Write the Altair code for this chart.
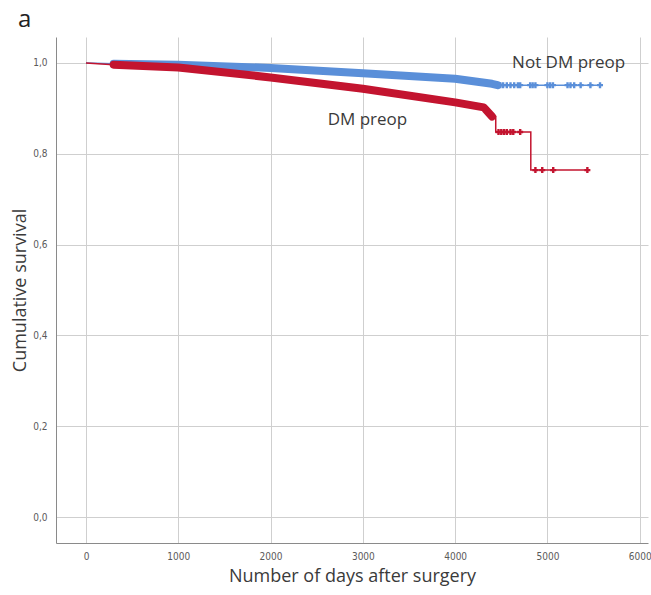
import altair as alt
import pandas as pd

# Kaplan-Meier step points (day, cumulative survival)
days_nodm = [0, 300, 1000, 2000, 3000, 4000, 4400, 4460, 5570]
surv_nodm = [1.0, 0.998, 0.996, 0.989, 0.977, 0.965, 0.954, 0.951, 0.951]

days_dm = [0, 300, 1000, 2000, 3000, 4000, 4310, 4400, 4440, 4820, 5433]
surv_dm = [1.0, 0.996, 0.990, 0.968, 0.943, 0.913, 0.902, 0.882, 0.848, 0.764, 0.764]

# span where censoring is so dense that the "+" marks merge into a band
band_nodm = (300, 4460)
band_dm = (300, 4400)

# individual censored cases in the tails
censor_nodm = [4490, 4520, 4560, 4600, 4640, 4680, 4705, 4813, 4840, 4870,
               5000, 5030, 5060, 5218, 5250, 5290, 5360, 5466, 5570]
censor_dm = [4470, 4500, 4530, 4560, 4600, 4630, 4705, 4870, 4944, 5063, 5433]

groups = ["Not DM preop", "DM preop"]
colors = ["#5a8fd9", "#c3142f"]

# group labels placed next to the curves
label_text = ["Not DM preop", "DM preop"]
label_day = [5230, 3050]
label_surv = [1.0, 0.874]


def step_value(days, surv, t):
    val = surv[0]
    for d, s in zip(days, surv):
        if d <= t:
            val = s
    return val


rows, band_rows, cens_rows = [], [], []
for g, days, surv, band, cens in [
    (groups[0], days_nodm, surv_nodm, band_nodm, censor_nodm),
    (groups[1], days_dm, surv_dm, band_dm, censor_dm),
]:
    order = 0
    for i, (d, s) in enumerate(zip(days, surv)):
        # past the dense band the curve is drawn as true steps
        if i > 0 and d > band[1]:
            rows.append({"group": g, "day": d, "surv": surv[i - 1], "k": order})
            order += 1
        rows.append({"group": g, "day": d, "surv": s, "k": order})
        order += 1
        if band[0] <= d <= band[1]:
            band_rows.append({"group": g, "day": d, "surv": s})
    for c in cens:
        cens_rows.append({"group": g, "day": c, "surv": step_value(days, surv, c)})

curves = pd.DataFrame(rows)
bands = pd.DataFrame(band_rows)
censored = pd.DataFrame(cens_rows)
labels = pd.DataFrame({"label": label_text, "day": label_day, "surv": label_surv})

label_font = "Liberation Sans Narrow, DejaVu Sans Condensed, sans-serif"
title_font = "Open Sans"

x_scale = alt.Scale(domain=[-325, 6090], nice=False, zero=False)
y_scale = alt.Scale(domain=[-0.057, 1.057], nice=False, zero=False)
color_scale = alt.Scale(domain=groups, range=colors)

x_enc = alt.X(
    "day:Q",
    scale=x_scale,
    axis=alt.Axis(
        title="Number of days after surgery",
        values=[0, 1000, 2000, 3000, 4000, 5000, 6000],
        labelExpr="format(datum.value, 'd')",
    ),
)
y_enc = alt.Y(
    "surv:Q",
    scale=y_scale,
    axis=alt.Axis(
        title="Cumulative survival",
        values=[0, 0.2, 0.4, 0.6, 0.8, 1.0],
        labelExpr="replace(format(datum.value, '.1f'), '.', ',')",
    ),
)
color_enc = alt.Color("group:N", scale=color_scale, legend=None)

step_lines = alt.Chart(curves).mark_line(strokeWidth=1.5).encode(
    x=x_enc, y=y_enc, color=color_enc, detail="group:N", order=alt.Order("k:Q")
)

band_lines = alt.Chart(bands).mark_line(
    strokeWidth=8, strokeCap="round", strokeJoin="round"
).encode(x=x_enc, y=y_enc, color=color_enc, detail="group:N",
         order=alt.Order("day:Q"))

censor_marks = alt.Chart(censored).mark_point(
    shape="cross", filled=True, size=36, opacity=1
).encode(x=x_enc, y=y_enc, color=color_enc)

text = alt.Chart(labels).mark_text(
    font=title_font, fontSize=17, color="#3a3a3a", align="center", baseline="middle"
).encode(x=x_enc, y=y_enc, text="label:N")

layers = []
for g in groups:
    flt = alt.datum.group == g
    layers += [
        step_lines.transform_filter(flt),
        band_lines.transform_filter(flt),
        censor_marks.transform_filter(flt),
    ]

chart = alt.layer(*layers, text).properties(
    width=592,
    height=506,
    padding={"left": 56, "top": 37, "right": 3, "bottom": 52},
    autosize=alt.AutoSizeParams(type="none"),
    background="white",
    title=alt.TitleParams(
        "a", anchor="start", frame="group", dx=-38, offset=5, fontSize=24,
        font=title_font, fontWeight="normal", color="#222222",
    ),
).configure_view(
    stroke=None
).configure_axis(
    grid=True,
    gridColor="#cfcfcf",
    gridWidth=1,
    domainColor="#8a8a8a",
    domainWidth=1,
    ticks=False,
    labelFont=label_font,
    labelFontSize=10,
    labelColor="#5a5a5a",
    titleFont=title_font,
    titleFontSize=18,
    titleFontWeight="normal",
    titleColor="#3a3a3a",
).configure_axisX(
    labelPadding=8, titlePadding=6
).configure_axisY(
    labelPadding=9, titlePadding=3
)

chart.save("out.html", embed_options={"renderer": "svg", "actions": False})
